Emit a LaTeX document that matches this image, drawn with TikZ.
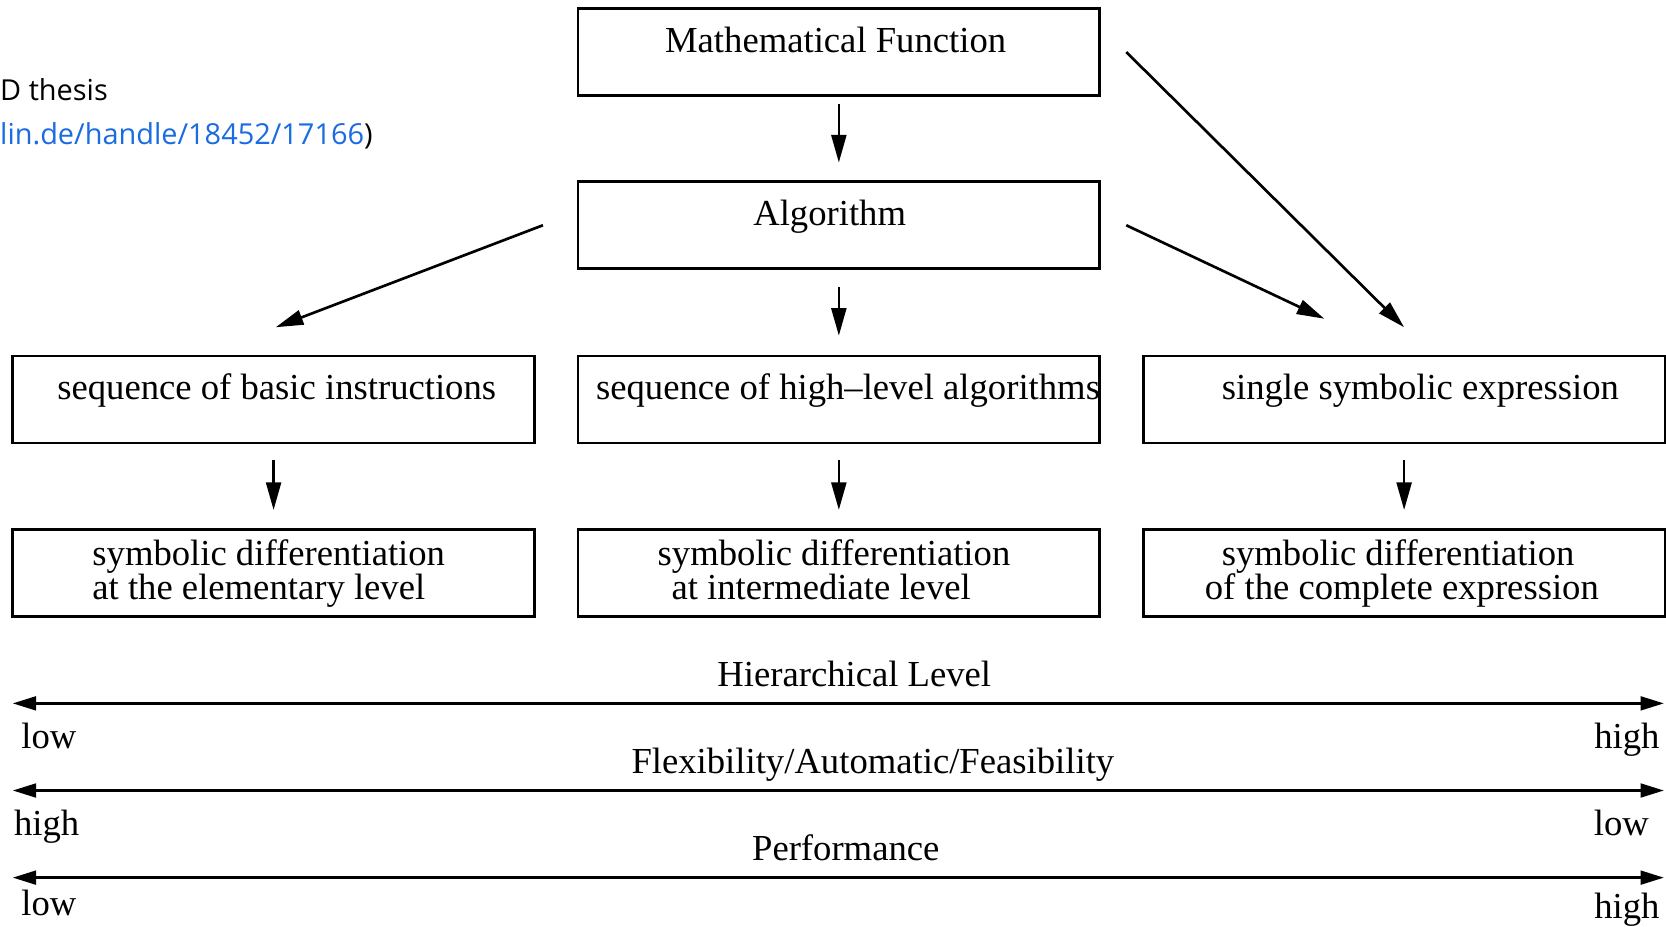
\documentclass[tikz,border=0pt]{standalone}
\usepackage{fontspec}
\setmainfont{Liberation Serif}
\newfontfamily\webfont{Open Sans}
\usetikzlibrary{arrows.meta}
\definecolor{linkblue}{RGB}{26,108,224}
\lineskiplimit=-100pt
\begin{document}
\begin{tikzpicture}[x=1pt,y=-1pt,
  serif/.style={font=\fontsize{34.5pt}{32pt}\selectfont},
  box/.style={draw, line width=2.6pt, serif, text width=491pt,
    inner xsep=0pt, inner ysep=0pt, outer sep=0pt, anchor=north west,
    align=left, execute at begin node={\spaceskip=0.25em\relax}},
  onebox/.style={box, text height=41pt, text depth=41pt},
  twobox/.style={box, text height=34pt, text depth=48pt},
  arr/.style={line width=2.5pt, -{Triangle[length=26pt,width=14pt]}},
  axis/.style={line width=2.4pt,
    {Triangle[length=22pt,width=13pt]}-{Triangle[length=22pt,width=13pt]}},
  lbl/.style={serif, inner sep=0pt, anchor=base},
  web/.style={font=\webfont\fontsize{27.2pt}{30pt}\selectfont,
    inner sep=0pt, anchor=base west},
]
\fill[white] (0,0) rectangle (1568,872);
\useasboundingbox (0,0) rectangle (1568,872);

% citation fragment at the upper left
\node[web] (thesis) at (0,95) {D thesis};
\node[web] (url) at (0,136) {{\color{linkblue}lin.de/handle/18452/17166})};

% top of the hierarchy
\node[onebox] (mf) at (544,8) {\hspace*{82pt}\mbox{Mathematical Function}};
\node[onebox] (alg) at (544,171) {\hspace*{165pt}\mbox{Algorithm}};

% representations
\node[onebox] (seq1) at (12,335) {\hspace*{42pt}\mbox{sequence of basic instructions}};
\node[onebox] (seq2) at (544,335)
  {\hspace*{17pt}\mbox{sequence of high--level algorithms}};
\node[onebox] (seq3) at (1076,335)
  {\hspace*{74pt}\mbox{single symbolic expression}};

% differentiation levels
\node[twobox] (d1) at (12,498)
  {\hspace*{75pt}\mbox{symbolic differentiation}\\
   \hspace*{75pt}\mbox{at the elementary level}};
\node[twobox] (d2) at (544,498)
  {\hspace*{75pt}\mbox{symbolic differentiation}\\
   \hspace*{88pt}\mbox{at intermediate level}};
\node[twobox] (d3) at (1076,498)
  {\hspace*{74pt}\mbox{symbolic differentiation}\\
   \hspace*{58pt}\mbox{of the complete expression}};

% connectors
\draw[arr] ([yshift=-8pt]mf.south) -- ([yshift=18pt]alg.north);
\draw[arr] ([yshift=-17pt]alg.south) -- ([yshift=19pt]seq2.north);
\draw[arr] ([xshift=-33pt]alg.west) -- ([xshift=2pt,yshift=27pt]seq1.north);
\draw[arr] ([xshift=25pt]alg.east) -- ([xshift=-75pt,yshift=35pt]seq3.north);
\draw[arr] ([xshift=25pt]mf.east) -- ([yshift=27pt]seq3.north);
\draw[arr] ([yshift=-16pt]seq1.south) -- ([yshift=18pt]d1.north);
\draw[arr] ([yshift=-16pt]seq2.south) -- ([yshift=18pt]d2.north);
\draw[arr] ([yshift=-16pt]seq3.south) -- ([yshift=18pt]d3.north);

% scales
\coordinate (h1l) at (12,662);  \coordinate (h1r) at (1566,662);
\coordinate (h2l) at (12,744);  \coordinate (h2r) at (1566,744);
\coordinate (h3l) at (12,826);  \coordinate (h3r) at (1566,826);
\draw[axis] (h1l) -- (h1r);
\draw[axis] (h2l) -- (h2r);
\draw[axis] (h3l) -- (h3r);

\node[lbl] (hier) at (804,646) {Hierarchical Level};
\node[lbl, anchor=base west] (hierlo) at (20,704) {low};
\node[lbl, anchor=base east] (hierhi) at (1562,704) {high};

\node[lbl] (flex) at (821.5,728) {Flexibility/Automatic/Feasibility};
\node[lbl, anchor=base west] (flexhi) at (13,786) {high};
\node[lbl, anchor=base east] (flexlo) at (1552,786) {low};

\node[lbl] (perf) at (796,810) {Performance};
\node[lbl, anchor=base west] (perflo) at (20,862) {low};
\node[lbl, anchor=base east] (perfhi) at (1562,864) {high};
\end{tikzpicture}
\end{document}
